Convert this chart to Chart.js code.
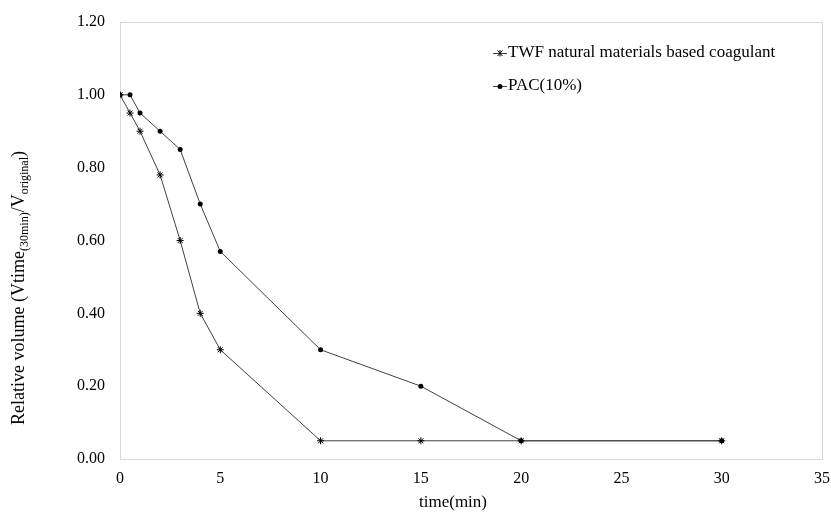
<!DOCTYPE html>
<html>
<head>
<meta charset="utf-8">
<script src="https://cdn.jsdelivr.net/npm/chart.js@4"></script>
<style>
  html, body { margin: 0; padding: 0; background: #fff; }
  #wrap { width: 831px; height: 518px; }
</style>
</head>
<body>
<div id="wrap"><canvas id="canvasDiv" width="831" height="518"></canvas></div>
<script>
//data
const times = [0, 0.5, 1, 2, 3, 4, 5, 10, 15, 20, 30];
const twfVals = [1.0, 0.95, 0.9, 0.78, 0.6, 0.4, 0.3, 0.05, 0.05, 0.05, 0.05];
const pacVals = [1.0, 1.0, 0.95, 0.9, 0.85, 0.7, 0.57, 0.3, 0.2, 0.05, 0.05];
const seriesNames = ["TWF natural materials based coagulant", "PAC(10%)"];
const xTicks = [0, 5, 10, 15, 20, 25, 30, 35];
const yTicks = [0, 0.2, 0.4, 0.6, 0.8, 1.0, 1.2];
const xTitle = "time(min)";

const FONT = "'Liberation Serif', 'Times New Roman', serif";

function toPoints(vals) {
  return times.map((t, i) => ({ x: t, y: vals[i] }));
}

//box round the plot area, axis titles, legend
const extras = {
  id: "extras",
  beforeDatasetsDraw(chart) {
    const ctx = chart.ctx;
    const a = chart.chartArea;
    ctx.save();
    ctx.strokeStyle = "#d9d9d9";
    ctx.lineWidth = 1;
    ctx.strokeRect(Math.round(a.left) + 0.5, Math.round(a.top) + 0.5,
      Math.round(a.right - a.left), Math.round(a.bottom - a.top));
    ctx.restore();
  },
  afterDraw(chart) {
    const ctx = chart.ctx;

    //x title
    ctx.save();
    ctx.font = "17px " + FONT;
    ctx.fillStyle = "#000";
    ctx.textAlign = "center";
    ctx.textBaseline = "middle";
    ctx.fillText(xTitle, 453, 503);
    ctx.restore();

    //y title with subscripts
    ctx.save();
    const parts = [
      ["Relative volume (Vtime", 18, 0],
      ["(30min)", 12, 4],
      ["/V", 18, 0],
      ["original", 12, 4],
      [")", 18, 0],
    ];
    let total = 0;
    parts.forEach((p) => {
      ctx.font = p[1] + "px " + FONT;
      total += ctx.measureText(p[0]).width;
    });
    ctx.translate(24, 288);
    ctx.rotate(-Math.PI / 2);
    ctx.fillStyle = "#000";
    ctx.textBaseline = "alphabetic";
    let x = -total / 2;
    parts.forEach((p) => {
      ctx.font = p[1] + "px " + FONT;
      ctx.fillText(p[0], x, p[2]);
      x += ctx.measureText(p[0]).width;
    });
    ctx.restore();

    //legend
    ctx.save();
    ctx.font = "17px " + FONT;
    ctx.textBaseline = "middle";
    const rows = [53, 86];
    chart.data.datasets.forEach((ds, i) => {
      const y = rows[i];
      ctx.strokeStyle = "#404040";
      ctx.lineWidth = 1;
      ctx.beginPath();
      ctx.moveTo(493, y + 0.5);
      ctx.lineTo(507, y + 0.5);
      ctx.stroke();
      ctx.strokeStyle = "#000";
      ctx.fillStyle = "#000";
      if (ds.pointStyle === "star") {
        ctx.beginPath();
        ctx.moveTo(497.5, y - 2.5); ctx.lineTo(502.5, y + 3);
        ctx.moveTo(502.5, y - 2.5); ctx.lineTo(497.5, y + 3);
        ctx.moveTo(500, y - 3); ctx.lineTo(500, y + 3.5);
        ctx.stroke();
      } else {
        ctx.beginPath();
        ctx.arc(500, y + 0.5, 2.5, 0, Math.PI * 2);
        ctx.fill();
      }
      ctx.fillText(ds.label, 508, y);
    });
    ctx.restore();
  },
};

const chart = new Chart(document.getElementById("canvasDiv"), {
  type: "line",
  data: {
    datasets: [
      {
        label: seriesNames[0],
        data: toPoints(twfVals),
        borderColor: "#404040",
        borderWidth: 1,
        pointStyle: "star",
        pointRadius: 3.5,
        pointBorderColor: "#000",
        pointBackgroundColor: "#000",
        pointBorderWidth: 1,
        tension: 0,
      },
      {
        label: seriesNames[1],
        data: toPoints(pacVals),
        borderColor: "#404040",
        borderWidth: 1,
        pointStyle: "circle",
        pointRadius: 2.5,
        pointBorderColor: "#000",
        pointBackgroundColor: "#000",
        pointBorderWidth: 0,
        tension: 0,
      },
    ],
  },
  options: {
    responsive: false,
    animation: false,
    layout: { padding: { left: 0, top: 22, right: 9, bottom: 0 } },
    plugins: {
      legend: { display: false },
      tooltip: { enabled: false },
    },
    scales: {
      x: {
        type: "linear",
        min: 0,
        max: 35,
        afterBuildTicks: (s) => { s.ticks = xTicks.map((v) => ({ value: v })); },
        afterFit: (s) => { s.height = 59; s.paddingLeft = 0; s.paddingRight = 0; },
        grid: { display: false, drawTicks: false },
        border: { display: false },
        ticks: {
          color: "#000",
          padding: 10,
          font: { family: FONT, size: 16 },
          maxRotation: 0,
        },
      },
      y: {
        min: 0,
        max: 1.2,
        afterBuildTicks: (s) => { s.ticks = yTicks.map((v) => ({ value: v })); },
        afterFit: (s) => { s.width = 120; s.paddingTop = 0; s.paddingBottom = 0; },
        grid: { display: false, drawTicks: false },
        border: { display: false },
        ticks: {
          color: "#000",
          padding: 15,
          font: { family: FONT, size: 16 },
          callback: (v) => Number(v).toFixed(2),
        },
      },
    },
  },
  plugins: [extras],
});
</script>
</body>
</html>
